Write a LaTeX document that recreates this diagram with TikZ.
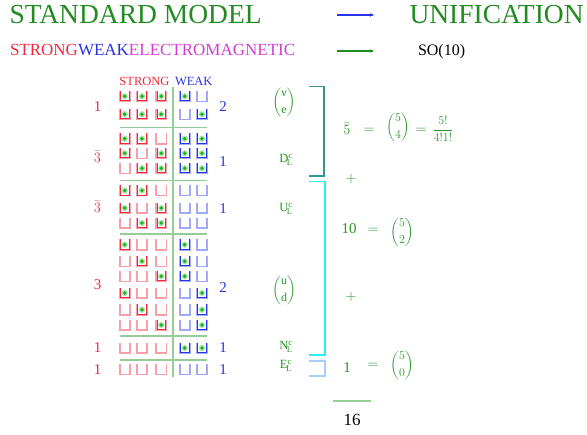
\documentclass[tikz,border=0pt]{standalone}
\usepackage{amsmath}
\usepackage{fontspec}
\setmainfont{Liberation Serif}
\usetikzlibrary{arrows.meta}

\definecolor{titlegreen}{RGB}{34,139,34}
\definecolor{labgreen}{RGB}{40,150,40}
\definecolor{sred}{RGB}{240,40,60}
\definecolor{sredlight}{RGB}{248,160,170}
\definecolor{wblue}{RGB}{40,50,230}
\definecolor{wbluelight}{RGB}{165,172,250}
\definecolor{emmag}{RGB}{210,60,210}
\definecolor{sepgreen}{RGB}{150,205,150}
\definecolor{dotgreen}{RGB}{20,180,30}
\definecolor{tealfive}{RGB}{50,150,150}
\definecolor{cyanten}{RGB}{40,240,240}
\definecolor{blueone}{RGB}{170,205,245}

\tikzset{
  txt/.style={inner sep=0pt, outer sep=0pt},
  sz/.style={font=\fontsize{#1}{#1}\selectfont},
  sep/.style={sepgreen, line width=1.3pt},
  bracket/.style={line width=1.5pt},
  pics/cupbox/.style n args={3}{code={
    \ifnum#3=1
      \draw[#1, line width=1.4pt] (-5.3,-5.3) -- (-5.3,5.3) -- (5.3,5.3) -- (5.3,-5.3);
      \draw[#2, line width=0.6pt] (-4.4,-5.3) -- (-4.4,4.4) -- (4.4,4.4) -- (4.4,-5.3);
      \fill[dotgreen!35] (0,0) circle (3.2);
      \fill[dotgreen] (0,0) circle (1.9);
    \else
      \draw[#1, line width=1.2pt] (-5.3,-5.3) -- (-5.3,5.3) -- (5.3,5.3) -- (5.3,-5.3);
      \draw[#2!45, line width=0.5pt] (-4.6,-5.3) -- (-4.6,4.6) -- (4.6,4.6) -- (4.6,-5.3);
    \fi
  }}
}

\begin{document}
\begin{tikzpicture}[x=1pt,y=-1pt]
\useasboundingbox (0,0) rectangle (587,435);

% headline
\node[txt, sz=27.5, titlegreen, anchor=base west] (sm) at (9.5,23.5) {STANDARD MODEL};
\node[txt, sz=27.5, titlegreen, anchor=base west] (unif) at (409.5,23.5) {UNIFICATION};
\coordinate (a1s) at (337,15);
\coordinate (a1e) at (375,15);
\draw[wblue, line width=1.5pt, -{Latex[length=5pt,width=3.5pt]}] (a1s) -- (a1e);

\node[txt, sz=17, anchor=base west] (forces) at (10,56)
  {\textcolor{sred}{STRONG}\textcolor{wblue}{WEAK}\textcolor{emmag}{ELECTROMAGNETIC}};
\coordinate (a2s) at (337,51);
\coordinate (a2e) at (375,51);
\draw[titlegreen, line width=1.5pt, -{Latex[length=5pt,width=3.5pt]}] (a2s) -- (a2e);
\node[txt, sz=16, anchor=base west] (so) at (418,56) {SO(10)};

% column headers
\node[txt, sz=12.5, sred, anchor=base east] (hs) at (169.5,85.5) {STRONG};
\node[txt, sz=12.5, wblue, anchor=base west] (hw) at (175,85.5) {WEAK};

% occupation cups
\foreach \yy/\a/\b/\c/\d/\e in {
  96.3/1/1/1/1/0, 114.2/1/1/1/0/1,
  138.7/1/1/0/1/1, 153.3/1/0/1/1/1, 168.3/0/1/1/1/1,
  190.5/1/1/0/0/0, 208/1/0/1/0/0, 223/0/1/1/0/0,
  244.7/1/0/0/1/0, 261.3/0/1/0/1/0, 276.3/0/0/1/1/0,
  293/1/0/0/0/1, 309.7/0/1/0/0/1, 325/0/0/1/0/1,
  348/0/0/0/1/1, 369.5/0/0/0/0/0} {
  \pic at (124.7,\yy) {cupbox={sredlight}{sred}{\a}};
  \pic at (142,\yy) {cupbox={sredlight}{sred}{\b}};
  \pic at (161.2,\yy) {cupbox={sredlight}{sred}{\c}};
  \pic at (184.7,\yy) {cupbox={wbluelight}{wblue}{\d}};
  \pic at (202,\yy) {cupbox={wbluelight}{wblue}{\e}};
}

% separators
\draw[sep, line width=1.6pt] (172.7,86.7) -- (172.7,377.3);
\foreach \yy in {127.7,180.7,234,336,360}
  \draw[sep] (120,\yy) -- (207.3,\yy);

% multiplicities
\foreach \yy/\t/\n in {107/1/l1, 157/$\bar{3}$/l2, 207/$\bar{3}$/l3, 285/3/l4, 348/1/l5, 370/1/l6}
  \node[txt, sz=15, sred] (\n) at (97.5,\yy) {\t};
\foreach \yy/\t/\n in {106.5/2/r1, 162/1/r2, 208.5/1/r3, 288/2/r4, 348/1/r5, 370/1/r6}
  \node[txt, sz=15, wblue] (\n) at (223,\yy) {\t};

% particle names
\node[txt, sz=12, labgreen] (nue) at (284,102) {$\dbinom{\text{ν}}{\mathrm{e}}$};
\node[txt, sz=12.5, labgreen] (dc) at (286,160) {$\mathrm{D}^{\mathrm{c}}_{\!\mathrm{L}}$};
\node[txt, sz=12.5, labgreen] (uc) at (286,209) {$\mathrm{U}^{\mathrm{c}}_{\!\mathrm{L}}$};
\node[txt, sz=12, labgreen] (ud) at (284,290) {$\dbinom{\mathrm{u}}{\mathrm{d}}$};
\node[txt, sz=12.5, labgreen] (nc) at (286,347) {$\mathrm{N}^{\mathrm{c}}_{\!\mathrm{L}}$};
\node[txt, sz=12.5, labgreen] (ec) at (286,366) {$\mathrm{E}^{\mathrm{c}}_{\!\mathrm{L}}$};

% representation brackets
\draw[bracket, tealfive] (309,86.7) -- (324,86.7) -- (324,176) -- (309,176);
\draw[bracket, cyanten] (309,181.7) -- (325,181.7) -- (325,355) -- (309,355);
\draw[bracket, blueone] (309,361) -- (325,361) -- (325,376) -- (309,376);

% counting
\begin{scope}[every node/.style={txt, sz=15, labgreen}]
\node (fb) at (347,129) {$\bar{5}$};
\node (eq1) at (369,131) {$=$};
\node (bn1) at (398,127) {\fontsize{13}{13}\selectfont$\dbinom{5}{4}$};
\node (eq2) at (421,131) {$=$};
\node (fr) at (443,129) {\fontsize{12.5}{12.5}\selectfont$\dfrac{5!}{4!1!}$};
\node (p1) at (351,179) {$+$};
\node (ten) at (349,229) {10};
\node (eq3) at (373,231) {$=$};
\node (bn2) at (402,232) {\fontsize{13}{13}\selectfont$\dbinom{5}{2}$};
\node (p2) at (351,297) {$+$};
\node (one) at (347,368) {1};
\node (eq4) at (373,366) {$=$};
\node (bn3) at (402,365) {\fontsize{13}{13}\selectfont$\dbinom{5}{0}$};
\end{scope}

% total
\coordinate (tl) at (333,401);
\coordinate (tr) at (371,401);
\draw[sepgreen, line width=1.2pt] (tl) -- (tr);
\node[txt, sz=17] (tot) at (352,420) {16};
\end{tikzpicture}
\end{document}
